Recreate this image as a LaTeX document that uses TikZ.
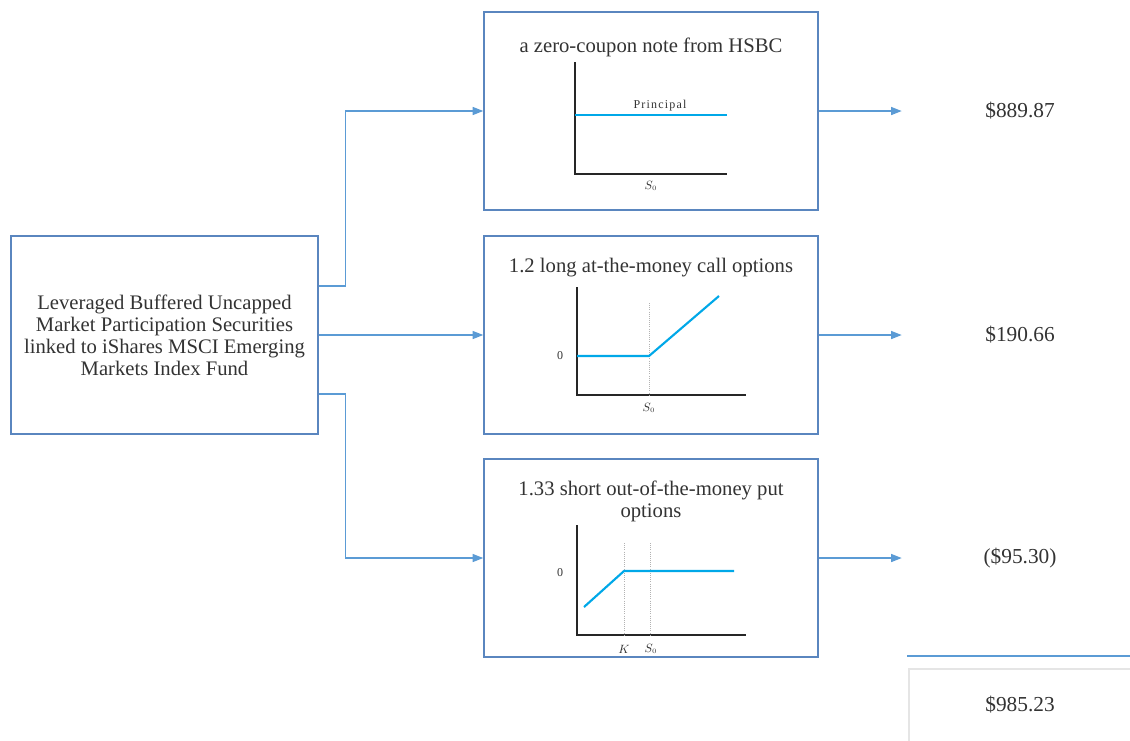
\documentclass[tikz,border=0pt]{standalone}
\usepackage{fontspec}
\setmainfont{Liberation Serif}
\usetikzlibrary{arrows.meta}
\definecolor{boxblue}{HTML}{5A86BF}
\definecolor{linkblue}{HTML}{5B9BD5}
\definecolor{payoff}{HTML}{00A8E8}
\definecolor{txt}{HTML}{333333}
\begin{document}
\begin{tikzpicture}[x=0.75pt,y=-0.75pt,
     every node/.style={text=txt,inner sep=0pt},
     part/.style={draw=boxblue,line width=1.1pt,fill=white,
       minimum width=250.5pt,minimum height=148.5pt},
     ttl/.style={font=\fontsize{15.5}{16.5}\selectfont,align=center},
     val/.style={font=\fontsize{16}{18}\selectfont,minimum width=177pt},
     link/.style={draw=linkblue,line width=1.1pt,-{Triangle[length=8pt,width=6pt]}},
     axis/.style={line width=1.1pt,black!85},
     guide/.style={gray!60,densely dotted,line width=0.6pt},
     curve/.style={payoff,line width=1.6pt},
     small/.style={font=\fontsize{9}{10}\selectfont}]
  \useasboundingbox (0,0) rectangle (1130,740);
  % the security and its three parts
  \node[part,minimum width=230.25pt,align=center,
        font=\fontsize{15.5}{16.5}\selectfont] (sec) at (164.5,335)
     {Leveraged Buffered Uncapped\\Market Participation Securities\\
      linked to iShares MSCI Emerging\\Markets Index Fund};
  \node[part] (note) at (651,111) {};
  \node[part] (call) at (651,335) {};
  \node[part] (put) at (651,558) {};
  \node[ttl] (notet) at (651,47) {a zero-coupon note from HSBC};
  \node[ttl] (callt) at (651,268) {1.2 long at-the-money call options};
  \node[ttl] (putt) at (651,501) {1.33 short out-of-the-money put\\options};
  % zero-coupon note
  \draw[axis] (575,62) -- (575,174) -- (727,174);
  \draw[curve] (575,115) -- (727,115);
  \node[small] (princ) at (660,106) {\addfontfeature{LetterSpace=10}Principal};
  \node[small] (s1) at (651,186) {$S_{\scriptscriptstyle 0}$};
  % call
  \draw[axis] (577,287) -- (577,395) -- (746,395);
  \draw[guide] (649,303) -- (649,395);
  \draw[curve] (577,356) -- (649,356) -- (719,296);
  \node[small] (z2) at (560,356) {0};
  \node[small] (s2) at (649,408) {$S_{\scriptscriptstyle 0}$};
  % put
  \draw[axis] (577,525) -- (577,635) -- (746,635);
  \draw[guide] (624,543) -- (624,635) (650,543) -- (650,635);
  \draw[curve] (584,607) -- (624,571) -- (734,571);
  \node[small] (z3) at (560,573) {0};
  \node[small] (k3) at (624,649) {$K$};
  \node[small] (s3) at (651,649) {$S_{\scriptscriptstyle 0}$};
  % values
  \node[val] (v1) at (1020,111) {\$889.87};
  \node[val] (v2) at (1020,335) {\$190.66};
  \node[val] (v3) at (1020,558) {(\$95.30)};
  \node[val,draw=gray!20,line width=1.5pt,minimum width=166.5pt,
        minimum height=55.5pt] (total) at (1020,706) {\raisebox{3pt}{\$985.23}};
  \draw[linkblue,line width=1.5pt] (total.north west) ++(-1,-12) -- ++(224,0);
  % connectors
  \draw[link] ([yshift=36.75pt]sec.east) -- ++(27,0) |- (note.west);
  \draw[link] (sec.east) -- (call.west);
  \draw[link] ([yshift=-44.25pt]sec.east) -- ++(27,0) |- (put.west);
  \draw[link] (note.east) -- (v1.west);
  \draw[link] (call.east) -- (v2.west);
  \draw[link] (put.east) -- (v3.west);
\end{tikzpicture}
\end{document}
